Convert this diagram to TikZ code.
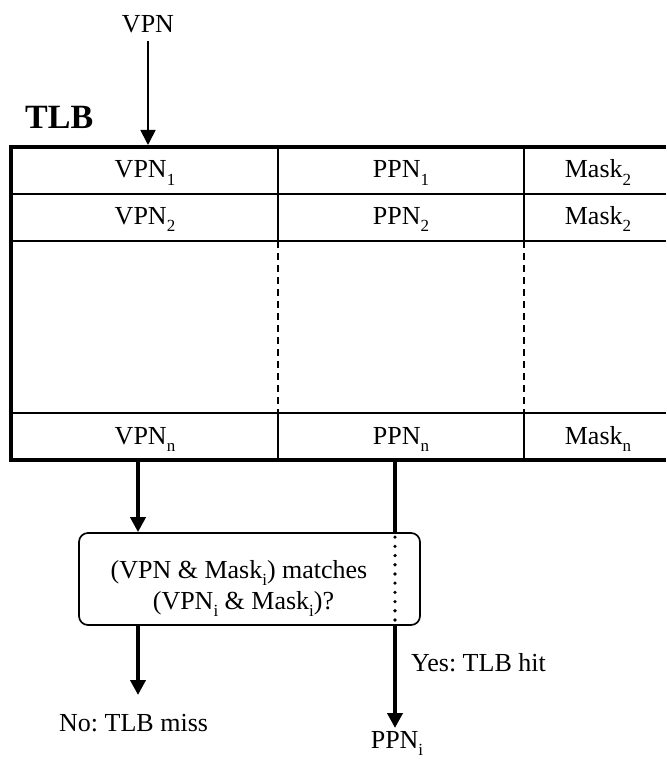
\documentclass[tikz,border=0pt]{standalone}
\usepackage{fontspec}
\setmainfont{Liberation Serif}
\usetikzlibrary{arrows.meta}
% lowered, smaller index after a label
\newcommand\idx[1]{\raisebox{-0.28em}{\fontsize{17}{17}\selectfont #1}}
\frenchspacing
\begin{document}
\begin{tikzpicture}[x=1pt,y=-1pt,
  txt/.style={font=\fontsize{26}{29}\selectfont, inner sep=0pt},
  thinline/.style={line width=1.7pt},
  thickline/.style={line width=4pt},
  tip/.style={-{Triangle[width=15pt,length=15pt]}},
  cell/.style={txt, anchor=base}]
\useasboundingbox (0,0) rectangle (666,762);

% title and input
\node[txt, anchor=base] (vpn) at (148,33) {VPN};
\node[font=\fontsize{34}{36}\selectfont\bfseries, inner sep=0pt, anchor=base west] (tlb) at (25,129) {TLB};

% table rules
\draw[thinline] (10,194) -- (666,194);
\draw[thinline] (10,241) -- (666,241);
\draw[thinline] (10,413) -- (666,413);
\draw[thinline] (278,148) -- (278,241);
\draw[thinline] (524,148) -- (524,241);
\draw[thinline] (278,413) -- (278,460);
\draw[thinline] (524,413) -- (524,460);
\draw[thinline, dash pattern=on 7pt off 5pt] (278,241) -- (278,413);
\draw[thinline, dash pattern=on 7pt off 5pt] (524,241) -- (524,413);
\draw[thickline] (666,147) -- (11,147) -- (11,460) -- (666,460);

% table cells
\node[cell] (v1) at (145,178) {VPN\idx{1}};
\node[cell] (p1) at (401,178) {PPN\idx{1}};
\node[cell] (m1) at (598,178) {Mask\idx{2}};
\node[cell] (v2) at (145,224) {VPN\idx{2}};
\node[cell] (p2) at (401,224) {PPN\idx{2}};
\node[cell] (m2) at (598,224) {Mask\idx{2}};
\node[cell] (vn) at (145,444) {VPN\idx{n}};
\node[cell] (pn) at (401,444) {PPN\idx{n}};
\node[cell] (mn) at (598,444) {Mask\idx{n}};

\coordinate (tabin) at (148,145);
\coordinate (tabL) at (138,462);
\coordinate (tabR) at (395,462);

% comparison box
\node[draw, thinline, rounded corners=9pt, minimum width=341pt, minimum height=92pt,
      inner sep=0pt] (cmp) at (249.5,579) {};
\node[cell] (cmp1) at (239,578) {(VPN \& Mask\idx{i}) matches};
\node[cell] (cmp2) at (243.5,609) {(VPN\idx{i} \& Mask\idx{i})?};

% outputs
\node[txt, anchor=base west] (miss) at (59,731) {No: TLB miss};
\node[txt, anchor=base west] (hit) at (411,671) {Yes: TLB hit};
\node[txt, anchor=base] (ppn) at (397,748) {PPN\idx{i}};
\coordinate (missend) at (138,695);
\coordinate (hitend) at (395,728);

% connectors
\draw[line width=1.7pt, tip] ([yshift=-7pt]vpn.south) -- (tabin);
\draw[thickline, tip] (tabL) -- (tabL |- cmp.north);
\draw[thickline] (tabR) -- (tabR |- cmp.north);
\draw[line width=3.6pt, line cap=round, dash pattern=on 0pt off 9.2pt]
  ([yshift=-5pt]tabR |- cmp.north) -- (tabR |- cmp.south);
\draw[thickline, tip] (tabR |- cmp.south) -- (hitend);
\draw[thickline, tip] (tabL |- cmp.south) -- (missend);
\end{tikzpicture}
\end{document}
